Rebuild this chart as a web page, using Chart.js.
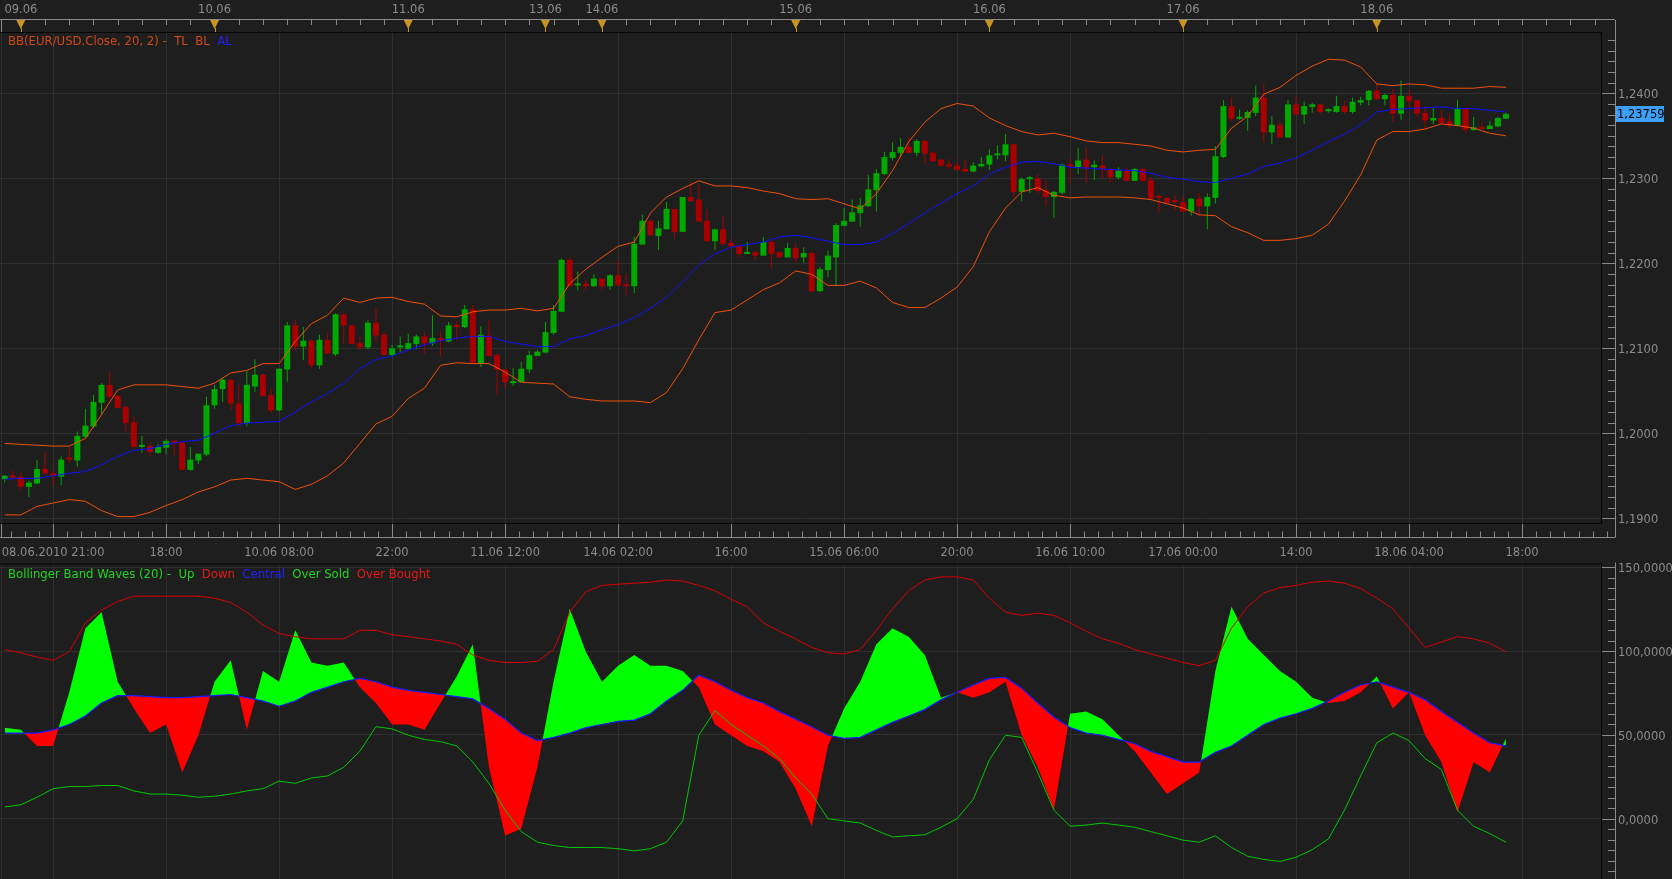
<!DOCTYPE html>
<html>
<head>
<meta charset="utf-8">
<title>EUR/USD - Bollinger</title>
<script src="https://cdn.jsdelivr.net/npm/chart.js@4.4.0/dist/chart.umd.min.js"></script>
<style>
  body { margin: 0; background: #1e1e1e; width: 1672px; height: 879px; overflow: hidden; position: relative; font-family: "DejaVu Sans", sans-serif; }
  canvas { position: absolute; left: 0; }
  #priceCanvas { top: 0; }
  #waveCanvas { top: 556px; }
  .legend { position: absolute; font-size: 11.7px; line-height: 14px; white-space: pre; }
</style>
</head>
<body>
<canvas id="priceCanvas" width="1672" height="560"></canvas>
<canvas id="waveCanvas" width="1672" height="323"></canvas>
<div class="legend" style="left:8px;top:34px;"><span style="color:#cf4a1a">BB(EUR/USD.Close, 20, 2) -  TL  BL  </span><span style="color:#2020ff">AL</span></div>
<div class="legend" style="left:8px;top:567px;"><span style="color:#22d422">Bollinger Band Waves (20) -  Up  </span><span style="color:#e81818">Down  </span><span style="color:#2020ff">Central  </span><span style="color:#22d422">Over Sold  </span><span style="color:#e81818">Over Bought</span></div>
<script>
// hourly candles, 08.06.2010 22:00 -> 18.06.2010
const openP = [
1.1946,1.1950,1.1949,1.1937,1.1941,1.1958,1.1953,1.1949,1.1970,1.1968,
1.1996,1.2008,1.2036,1.2057,1.2044,1.2031,1.2013,1.1984,1.1985,1.1977,
1.1983,1.1991,1.1989,1.1957,1.1968,1.1975,1.2033,1.2052,1.2063,1.2035,
1.2012,1.2055,1.2069,1.2045,1.2027,1.2075,1.2127,1.2102,1.2109,1.2080,
1.2110,1.2093,1.2140,1.2127,1.2106,1.2101,1.2130,1.2116,1.2092,1.2101,
1.2099,1.2105,1.2114,1.2106,1.2112,1.2108,1.2127,1.2125,1.2146,1.2082,
1.2115,1.2092,1.2075,1.2059,1.2060,1.2075,1.2091,1.2095,1.2118,1.2143,
1.2204,1.2174,1.2176,1.2173,1.2182,1.2173,1.2186,1.2174,1.2173,1.2222,
1.2250,1.2232,1.2240,1.2264,1.2237,1.2278,1.2275,1.2250,1.2226,1.2240,
1.2224,1.2220,1.2211,1.2213,1.2209,1.2225,1.2213,1.2207,1.2218,1.2207,
1.2212,1.2167,1.2192,1.2207,1.2244,1.2249,1.2259,1.2267,1.2286,1.2305,
1.2324,1.2330,1.2337,1.2330,1.2344,1.2330,1.2322,1.2316,1.2315,1.2311,
1.2308,1.2314,1.2316,1.2327,1.2327,1.2340,1.2284,1.2299,1.2300,1.2286,
1.2278,1.2283,1.2316,1.2313,1.2322,1.2313,1.2315,1.2311,1.2301,1.2309,
1.2297,1.2311,1.2298,1.2279,1.2277,1.2273,1.2272,1.2261,1.2276,1.2267,
1.2277,1.2325,1.2385,1.2370,1.2371,1.2377,1.2395,1.2354,1.2363,1.2348,
1.2387,1.2375,1.2384,1.2387,1.2379,1.2378,1.2385,1.2378,1.2389,1.2392,
1.2403,1.2393,1.2398,1.2376,1.2397,1.2392,1.2377,1.2368,1.2371,1.2367,
1.2362,1.2382,1.2357,1.2360,1.2358,1.2361,1.2370];
const highP = [
1.1951,1.1956,1.1954,1.1944,1.1969,1.1978,1.1957,1.1973,1.1984,1.2002,
1.2029,1.2045,1.2059,1.2073,1.2045,1.2033,1.2020,1.1997,1.1990,1.1987,
1.1993,1.1991,1.1990,1.1984,1.1976,1.2043,1.2057,1.2065,1.2063,1.2057,
1.2073,1.2087,1.2071,1.2052,1.2076,1.2131,1.2133,1.2125,1.2110,1.2116,
1.2118,1.2141,1.2141,1.2127,1.2114,1.2133,1.2147,1.2120,1.2104,1.2114,
1.2117,1.2116,1.2118,1.2139,1.2120,1.2131,1.2132,1.2151,1.2151,1.2126,
1.2133,1.2094,1.2076,1.2077,1.2084,1.2097,1.2098,1.2131,1.2151,1.2206,
1.2207,1.2190,1.2180,1.2187,1.2182,1.2187,1.2204,1.2187,1.2231,1.2257,
1.2251,1.2250,1.2272,1.2264,1.2278,1.2296,1.2292,1.2263,1.2241,1.2256,
1.2229,1.2220,1.2225,1.2215,1.2231,1.2227,1.2214,1.2224,1.2224,1.2219,
1.2214,1.2196,1.2215,1.2247,1.2265,1.2275,1.2277,1.2304,1.2311,1.2331,
1.2342,1.2347,1.2349,1.2346,1.2345,1.2332,1.2323,1.2323,1.2319,1.2322,
1.2319,1.2325,1.2334,1.2339,1.2352,1.2340,1.2301,1.2303,1.2305,1.2298,
1.2285,1.2317,1.2324,1.2336,1.2336,1.2321,1.2327,1.2312,1.2313,1.2313,
1.2312,1.2313,1.2301,1.2282,1.2278,1.2280,1.2278,1.2277,1.2283,1.2282,
1.2338,1.2392,1.2395,1.2381,1.2380,1.2409,1.2411,1.2373,1.2367,1.2392,
1.2398,1.2390,1.2389,1.2387,1.2382,1.2397,1.2391,1.2395,1.2396,1.2404,
1.2412,1.2400,1.2405,1.2415,1.2404,1.2392,1.2384,1.2383,1.2380,1.2375,
1.2392,1.2382,1.2372,1.2366,1.2367,1.2372,1.2377];
const lowP = [
1.1942,1.1946,1.1933,1.1925,1.1940,1.1951,1.1939,1.1939,1.1965,1.1961,
1.1994,1.2006,1.2022,1.2041,1.2029,1.2002,1.1982,1.1977,1.1974,1.1976,
1.1976,1.1974,1.1957,1.1956,1.1964,1.1973,1.2029,1.2037,1.2027,1.2008,
1.2008,1.2049,1.2043,1.2024,1.2026,1.2061,1.2097,1.2086,1.2076,1.2076,
1.2093,1.2091,1.2106,1.2105,1.2098,1.2099,1.2108,1.2092,1.2090,1.2095,
1.2099,1.2099,1.2094,1.2103,1.2091,1.2107,1.2110,1.2124,1.2082,1.2078,
1.2091,1.2045,1.2053,1.2056,1.2060,1.2071,1.2091,1.2094,1.2116,1.2143,
1.2173,1.2168,1.2168,1.2172,1.2168,1.2169,1.2174,1.2163,1.2165,1.2222,
1.2232,1.2216,1.2240,1.2229,1.2237,1.2273,1.2249,1.2226,1.2216,1.2221,
1.2220,1.2207,1.2211,1.2204,1.2209,1.2194,1.2207,1.2207,1.2201,1.2201,
1.2167,1.2167,1.2184,1.2174,1.2244,1.2249,1.2243,1.2267,1.2261,1.2304,
1.2321,1.2325,1.2330,1.2326,1.2317,1.2320,1.2314,1.2311,1.2309,1.2308,
1.2307,1.2313,1.2310,1.2322,1.2320,1.2278,1.2273,1.2283,1.2282,1.2267,
1.2254,1.2281,1.2294,1.2305,1.2295,1.2298,1.2300,1.2295,1.2299,1.2296,
1.2297,1.2296,1.2275,1.2260,1.2270,1.2262,1.2261,1.2256,1.2256,1.2240,
1.2270,1.2324,1.2367,1.2369,1.2356,1.2373,1.2343,1.2340,1.2348,1.2348,
1.2375,1.2364,1.2377,1.2376,1.2377,1.2377,1.2376,1.2376,1.2386,1.2386,
1.2392,1.2386,1.2366,1.2369,1.2384,1.2372,1.2357,1.2364,1.2364,1.2359,
1.2361,1.2354,1.2356,1.2358,1.2358,1.2360,1.2370];
const closeP = [
1.1950,1.1948,1.1937,1.1942,1.1958,1.1953,1.1950,1.1969,1.1969,1.1997,
1.2009,1.2037,1.2057,1.2043,1.2030,1.2012,1.1984,1.1986,1.1978,1.1984,
1.1991,1.1989,1.1957,1.1969,1.1976,1.2033,1.2052,1.2063,1.2035,1.2012,
1.2057,1.2069,1.2044,1.2027,1.2076,1.2127,1.2102,1.2109,1.2080,1.2110,
1.2094,1.2140,1.2127,1.2105,1.2101,1.2130,1.2115,1.2092,1.2100,1.2102,
1.2106,1.2114,1.2106,1.2112,1.2109,1.2127,1.2125,1.2146,1.2083,1.2116,
1.2091,1.2075,1.2060,1.2061,1.2076,1.2092,1.2096,1.2119,1.2144,1.2204,
1.2173,1.2175,1.2173,1.2182,1.2173,1.2186,1.2174,1.2173,1.2223,1.2250,
1.2233,1.2241,1.2264,1.2237,1.2278,1.2273,1.2249,1.2226,1.2240,1.2223,
1.2220,1.2211,1.2213,1.2209,1.2225,1.2211,1.2207,1.2218,1.2206,1.2212,
1.2167,1.2193,1.2209,1.2245,1.2250,1.2260,1.2268,1.2287,1.2306,1.2325,
1.2331,1.2337,1.2330,1.2344,1.2329,1.2320,1.2315,1.2314,1.2310,1.2308,
1.2315,1.2317,1.2327,1.2328,1.2340,1.2284,1.2299,1.2300,1.2285,1.2278,
1.2284,1.2316,1.2314,1.2321,1.2313,1.2316,1.2311,1.2301,1.2309,1.2297,
1.2311,1.2297,1.2276,1.2277,1.2271,1.2272,1.2261,1.2276,1.2267,1.2278,
1.2326,1.2385,1.2370,1.2372,1.2378,1.2395,1.2354,1.2363,1.2348,1.2387,
1.2375,1.2385,1.2387,1.2378,1.2380,1.2385,1.2378,1.2390,1.2392,1.2403,
1.2393,1.2398,1.2376,1.2397,1.2391,1.2376,1.2368,1.2371,1.2365,1.2362,
1.2382,1.2357,1.2360,1.2358,1.2362,1.2371,1.23759];

// bands, read at every 2nd candle
const bandUpper = [
1.1988,1.1987,1.1986,1.1985,1.1985,1.1994,1.2022,1.2051,1.2057,1.2057,
1.2057,1.2055,1.2053,1.2059,1.2071,1.2074,1.2082,1.2082,1.2108,1.2129,
1.2139,1.2159,1.2154,1.2159,1.2160,1.2155,1.2152,1.2138,1.2137,1.2143,
1.2145,1.2145,1.2147,1.2144,1.2147,1.2176,1.2193,1.2207,1.2220,1.2225,
1.2259,1.2278,1.2288,1.2297,1.2291,1.2291,1.2289,1.2285,1.2282,1.2276,
1.2275,1.2276,1.2270,1.2264,1.2282,1.2309,1.2343,1.2366,1.2382,1.2388,
1.2385,1.2371,1.2362,1.2355,1.2351,1.2353,1.2349,1.2344,1.2342,1.2342,
1.2340,1.2338,1.2333,1.2331,1.2333,1.2334,1.2359,1.2373,1.2399,1.2407,
1.2421,1.2432,1.2440,1.2439,1.2431,1.2411,1.2409,1.2411,1.2410,1.2406,
1.2406,1.2406,1.2408,1.2407];
const bandMid = [
1.1946,1.1947,1.1947,1.1950,1.1953,1.1955,1.1963,1.1973,1.1980,1.1982,
1.1987,1.1990,1.1992,1.2000,1.2009,1.2012,1.2013,1.2014,1.2025,1.2037,
1.2047,1.2059,1.2076,1.2087,1.2091,1.2098,1.2104,1.2109,1.2112,1.2114,
1.2114,1.2108,1.2105,1.2102,1.2102,1.2111,1.2115,1.2122,1.2128,1.2136,
1.2147,1.2160,1.2178,1.2198,1.2211,1.2219,1.2222,1.2225,1.2231,1.2233,
1.2230,1.2226,1.2222,1.2222,1.2225,1.2235,1.2247,1.2259,1.2271,1.2282,
1.2291,1.2305,1.2313,1.2319,1.2320,1.2317,1.2313,1.2312,1.2311,1.2310,
1.2309,1.2306,1.2301,1.2299,1.2296,1.2295,1.2300,1.2305,1.2314,1.2318,
1.2324,1.2333,1.2343,1.2352,1.2363,1.2378,1.2381,1.2382,1.2383,1.2384,
1.2382,1.2382,1.2380,1.2378];
const bandLower = [
1.1904,1.1904,1.1914,1.1918,1.1922,1.1920,1.1909,1.1902,1.1902,1.1907,
1.1915,1.1922,1.1931,1.1937,1.1945,1.1947,1.1945,1.1943,1.1934,1.1940,
1.1950,1.1965,1.1988,1.2011,1.2020,1.2041,1.2053,1.2080,1.2083,1.2082,
1.2082,1.2072,1.2060,1.2059,1.2058,1.2043,1.2040,1.2038,1.2038,1.2038,
1.2036,1.2048,1.2076,1.2110,1.2142,1.2145,1.2157,1.2169,1.2177,1.2191,
1.2187,1.2174,1.2174,1.2179,1.2171,1.2154,1.2148,1.2148,1.2159,1.2172,
1.2196,1.2237,1.2265,1.2284,1.2289,1.2280,1.2277,1.2278,1.2278,1.2278,
1.2277,1.2275,1.2270,1.2265,1.2257,1.2256,1.2243,1.2236,1.2227,1.2227,
1.2229,1.2233,1.2246,1.2273,1.2304,1.2345,1.2355,1.2355,1.2358,1.2364,
1.2362,1.2359,1.2353,1.2350];

// Bollinger Band Waves, read at every 2nd candle
const waveValue = [
54.3,53.0,43.4,43.4,75.4,113.7,123.2,81.7,65.8,51.1,
56.2,27.5,49.8,81.7,94.5,53.0,88.1,81.7,112.4,93.2,
91.3,93.2,78.5,69.0,56.2,56.2,53.0,69.0,84.9,104.1,
30.7,-10.0,-6.0,30.7,81.7,125.2,99.6,81.7,91.3,97.7,
91.3,91.3,88.1,78.5,56.2,49.8,43.4,40.2,33.8,17.9,
-4.5,43.4,65.8,81.7,104.1,113.7,108.6,97.7,72.2,75.4,
72.2,75.4,81.7,49.8,30.7,5.1,62.6,63.9,59.4,49.8,
40.2,27.5,14.7,21.1,27.5,88.1,126.4,107.3,97.7,88.1,
81.7,72.2,69.0,70.2,75.4,84.9,65.8,75.4,49.8,33.8,
3.8,33.8,27.5,47.9];
const waveCentral = [
51.1,51.1,51.1,53.0,56.2,61.3,69.0,73.4,73.4,72.8,
72.2,72.2,72.8,73.4,74.1,72.2,70.2,67.1,70.2,75.4,
78.5,81.7,83.7,81.7,78.5,76.6,75.4,74.1,72.8,71.5,
65.8,59.4,51.1,46.6,48.5,51.1,54.3,56.2,58.1,58.8,
62.6,70.2,76.6,85.6,81.7,76.6,72.2,69.0,63.9,59.4,
54.9,49.8,47.9,48.5,53.0,57.5,61.3,65.1,70.9,75.4,
79.8,83.7,84.3,77.9,69.0,60.7,54.3,51.1,49.8,47.3,
44.7,40.2,37.0,33.8,33.8,39.6,43.4,49.8,56.2,60.0,
62.6,65.8,70.2,75.4,79.8,81.7,78.5,75.4,70.9,63.9,
57.5,51.1,45.3,43.4];
const waveOverBought = [
100.9,99.0,96.4,94.5,99.6,116.9,124.5,129.6,132.8,132.8,
132.8,132.8,132.8,131.6,129.0,123.2,115.6,110.5,108.6,107.3,
107.3,107.3,112.4,112.4,109.8,108.6,107.3,106.0,104.1,97.7,
94.5,93.2,93.2,93.9,100.9,123.2,135.4,139.2,139.9,140.5,
141.1,142.4,141.8,139.2,136.0,130.9,126.4,116.9,111.8,107.3,
102.2,99.0,98.3,100.9,112.4,125.2,136.0,142.4,144.3,144.3,
142.4,131.6,123.2,121.3,122.6,121.3,116.9,111.8,107.3,104.7,
100.9,98.3,95.8,93.2,91.3,94.5,113.7,126.4,134.7,137.9,
139.2,141.1,141.8,140.5,137.3,131.6,125.2,113.7,102.2,105.4,
108.6,107.3,104.7,99.6];
const waveOverSold = [
7.0,8.3,12.8,17.9,19.2,19.2,19.8,19.8,16.6,14.7,
14.7,14.0,12.8,13.4,14.7,16.6,17.9,22.4,21.1,24.3,
25.5,30.7,40.2,54.9,53.6,49.8,47.3,46.0,43.4,33.8,
21.1,5.1,-7.7,-14.0,-16.0,-17.2,-17.2,-17.2,-17.9,-19.2,
-17.9,-14.0,-1.3,49.8,64.5,56.2,49.8,43.4,35.8,24.3,
14.7,0,-1.3,-2.6,-7.0,-10.9,-10.2,-9.6,-5.1,0,
11.5,35.1,49.8,48.5,27.5,5.1,-4.5,-3.8,-2.6,-3.8,
-5.1,-7.7,-10.2,-12.8,-14.0,-10.2,-17.2,-22.4,-24.3,-25.5,
-23.0,-18.5,-12.1,5.1,25.5,45.3,51.1,46.6,35.8,29.4,
5.1,-4.5,-8.9,-14.0];

// axis labels
const gridIdx = [6, 20, 34, 48, 62, 76, 90, 104, 118, 132, 146, 160, 174, 188];
const timeLabels = ['08.06.2010 21:00', '18:00', '10.06 08:00', '22:00', '11.06 12:00', '14.06 02:00', '16:00',
                    '15.06 06:00', '20:00', '16.06 10:00', '17.06 00:00', '14:00', '18.06 04:00', '18:00'];
const dayIdx = [2, 26, 50, 67, 74, 98, 122, 146, 170];
const dayLabels = ['09.06', '10.06', '11.06', '13.06', '14.06', '15.06', '16.06', '17.06', '18.06'];
const priceTicks = [1.19, 1.20, 1.21, 1.22, 1.23, 1.24];
const waveTicks = [0, 50, 100, 150];
const lastPrice = 1.23759;

const X_MIN = -0.582, X_MAX = 197.78;
const GRID = '#2f2f2f', AXIS = '#8a8a8a', FRAME = '#050505', TXT = '#8c8c8c';
const UP = '#00a800', DOWN = '#a80000';

Chart.defaults.font.family = '"DejaVu Sans", sans-serif';
Chart.defaults.font.size = 11.5;
Chart.defaults.color = TXT;

const pts = arr => arr.map((v, k) => ({ x: 2 * k, y: v }));
const candleColor = c => closeP[c.dataIndex] >= openP[c.dataIndex] ? UP : DOWN;
const comma = v => v.toFixed(4).replace('.', ',');

function seg(ctx, x1, y1, x2, y2, color) {
    ctx.strokeStyle = color;
    ctx.lineWidth = 1;
    ctx.beginPath();
    ctx.moveTo(x1, y1);
    ctx.lineTo(x2, y2);
    ctx.stroke();
}

// keep the plot area exactly where the axes are fitted
const noPadX = h => s => { s.height = h; s.paddingLeft = 0; s.paddingRight = 0; };
const noPadY = s => { s.width = 71; s.paddingTop = 0; s.paddingBottom = 0; };

// right axis line + ticks, shared by both panels
function drawRightAxis(ctx, a, yScale, majors, minorStep, yFrom, yTo) {
    seg(ctx, 1615.5, yFrom, 1615.5, yTo, AXIS);
    const lo = yScale.min, hi = yScale.max;
    for (let v = Math.ceil(lo / minorStep) * minorStep; v <= hi; v += minorStep) {
        const p = Math.round(yScale.getPixelForValue(v)) + 0.5;
        seg(ctx, 1608, p, 1615, p, AXIS);
    }
    majors.forEach(v => {
        const p = Math.round(yScale.getPixelForValue(v)) + 0.5;
        seg(ctx, a.right + 1, p, 1615, p, AXIS);
    });
}

const priceDecor = {
    id: 'priceDecor',
    afterDraw(chart) {
        const { ctx, chartArea: a, scales: { x, y } } = chart;
        const px = v => Math.round(x.getPixelForValue(v)) + 0.5;
        ctx.save();
        seg(ctx, 1.5, a.top, 1.5, a.bottom, GRID);

        // top date strip
        seg(ctx, 0, 19.5, 1615, 19.5, AXIS);
        seg(ctx, 1.5, 20, 1.5, 32, AXIS);
        for (let v = -1; v < 200; v += 3) {
            const p = px(v);
            if (p > 2 && p < 1615) seg(ctx, p, 20, p, 25, AXIS);
        }
        ctx.fillStyle = '#c8961e';
        dayIdx.forEach(d => {
            const p = x.getPixelForValue(d);
            ctx.beginPath();
            ctx.moveTo(p - 4.5, 20);
            ctx.lineTo(p + 4.5, 20);
            ctx.lineTo(p, 29);
            ctx.closePath();
            ctx.fill();
            seg(ctx, Math.round(p) + 0.5, 28, Math.round(p) + 0.5, 33, '#c8961e');
        });

        // frame
        seg(ctx, 0, a.top - 0.5, a.right + 1, a.top - 0.5, FRAME);
        seg(ctx, 0, a.bottom + 0.5, a.right + 1, a.bottom + 0.5, FRAME);
        seg(ctx, a.right + 0.5, a.top, a.right + 0.5, a.bottom, FRAME);

        // bottom time strip
        const by = a.bottom + 14.5;
        seg(ctx, 0, by, 1615, by, AXIS);
        seg(ctx, 1.5, a.bottom + 1, 1.5, by, AXIS);
        for (let v = gridIdx[0] - 1.75 * 4; v < 200; v += 1.75) {
            const p = px(v);
            if (p > 2 && p < 1615) seg(ctx, p, by - 6, p, by, AXIS);
        }
        gridIdx.forEach(v => seg(ctx, px(v), a.bottom + 1, px(v), by, AXIS));

        drawRightAxis(ctx, a, y, priceTicks, 0.00125, 20, by);

        // last price tag
        const ly = y.getPixelForValue(lastPrice);
        ctx.fillStyle = '#3d9ff5';
        ctx.fillRect(1616, Math.round(ly) - 8, 48, 16);
        ctx.fillStyle = '#000000';
        ctx.textAlign = 'left';
        ctx.textBaseline = 'middle';
        ctx.font = '11.5px "DejaVu Sans", sans-serif';
        ctx.fillText(lastPrice.toFixed(5).replace('.', ','), 1617, Math.round(ly) + 1);
        ctx.restore();
    }
};

const waveDecor = {
    id: 'waveDecor',
    afterDraw(chart) {
        const { ctx, chartArea: a, scales: { y } } = chart;
        ctx.save();
        seg(ctx, 1.5, a.top, 1.5, a.bottom, GRID);
        seg(ctx, 0, a.top - 0.5, a.right + 1, a.top - 0.5, FRAME);
        seg(ctx, a.right + 0.5, a.top, a.right + 0.5, a.bottom, FRAME);
        drawRightAxis(ctx, a, y, waveTicks, 6.25, a.top - 2, a.bottom);
        ctx.restore();
    }
};

const xTicks = (ids) => (s) => { s.ticks = ids.map(v => ({ value: v })); };

new Chart(document.getElementById('priceCanvas'), {
    type: 'bar',
    data: {
        datasets: [
            { type: 'line', label: 'TL', data: pts(bandUpper), borderColor: '#f0500a', borderWidth: 1, pointRadius: 0, order: 1 },
            { type: 'line', label: 'BL', data: pts(bandLower), borderColor: '#f0500a', borderWidth: 1, pointRadius: 0, order: 1 },
            { type: 'line', label: 'AL', data: pts(bandMid), borderColor: '#1010ff', borderWidth: 1, pointRadius: 0, order: 1 },
            {
                label: 'wick', xAxisID: 'x', yAxisID: 'y',
                data: lowP.map((v, i) => ({ x: i, y: [v, highP[i]] })),
                backgroundColor: candleColor, barThickness: 1, grouped: false, inflateAmount: 0, order: 3
            },
            {
                label: 'body', xAxisID: 'x', yAxisID: 'y',
                data: openP.map((v, i) => ({ x: i, y: [v, closeP[i]] })),
                backgroundColor: candleColor, barThickness: 6, minBarLength: 2, grouped: false, inflateAmount: 0, order: 2
            }
        ]
    },
    options: {
        responsive: false,
        animation: false,
        layout: { padding: 0 },
        plugins: { legend: { display: false }, tooltip: { enabled: false } },
        scales: {
            x: {
                type: 'linear', position: 'bottom', min: X_MIN, max: X_MAX, offset: false,
                afterBuildTicks: xTicks(gridIdx),
                afterFit: noPadX(37),
                grid: { color: GRID, drawTicks: false, offset: false },
                border: { display: false },
                ticks: { padding: 23, maxRotation: 0, autoSkip: false, callback: (v, i) => timeLabels[i] }
            },
            xTop: {
                type: 'linear', position: 'top', min: X_MIN, max: X_MAX, offset: false,
                afterBuildTicks: xTicks(dayIdx),
                afterFit: noPadX(33),
                grid: { drawOnChartArea: false, drawTicks: false },
                border: { display: false },
                ticks: { padding: 16, maxRotation: 0, autoSkip: false, callback: (v, i) => dayLabels[i] }
            },
            y: {
                position: 'right', min: 1.189447, max: 1.247094, beginAtZero: false,
                afterBuildTicks: s => { s.ticks = priceTicks.map(v => ({ value: v })); },
                afterFit: noPadY,
                grid: { color: GRID, drawTicks: false },
                border: { display: false },
                ticks: { padding: 17, labelOffset: 2, callback: v => comma(v) }
            }
        }
    },
    plugins: [priceDecor]
});

new Chart(document.getElementById('waveCanvas'), {
    type: 'line',
    data: {
        datasets: [
            {
                label: 'Wave', data: pts(waveValue), borderWidth: 0, borderColor: 'rgba(0,0,0,0)', pointRadius: 0,
                fill: { target: 1, above: '#00ff00', below: '#ff0000' }, order: 4
            },
            { label: 'Central', data: pts(waveCentral), borderColor: '#1a1aff', borderWidth: 1.2, pointRadius: 0, fill: false, order: 1 },
            { label: 'Over Bought', data: pts(waveOverBought), borderColor: '#d80000', borderWidth: 1, pointRadius: 0, fill: false, order: 2 },
            { label: 'Over Sold', data: pts(waveOverSold), borderColor: '#00c800', borderWidth: 1, pointRadius: 0, fill: false, order: 2 }
        ]
    },
    options: {
        responsive: false,
        animation: false,
        layout: { padding: { top: 8.5, left: 0, right: 0, bottom: 0 } },
        plugins: { legend: { display: false }, tooltip: { enabled: false } },
        scales: {
            x: {
                type: 'linear', min: X_MIN, max: X_MAX,
                afterBuildTicks: xTicks(gridIdx),
                afterFit: noPadX(0),
                grid: { color: GRID, drawTicks: false },
                border: { display: false },
                ticks: { display: false }
            },
            y: {
                position: 'right', min: -35.98, max: 151.67,
                afterBuildTicks: s => { s.ticks = waveTicks.map(v => ({ value: v })); },
                afterFit: noPadY,
                grid: { color: GRID, drawTicks: false },
                border: { display: false },
                ticks: { padding: 17, labelOffset: 2, callback: v => comma(v) }
            }
        }
    },
    plugins: [waveDecor]
});
</script>
</body>
</html>
